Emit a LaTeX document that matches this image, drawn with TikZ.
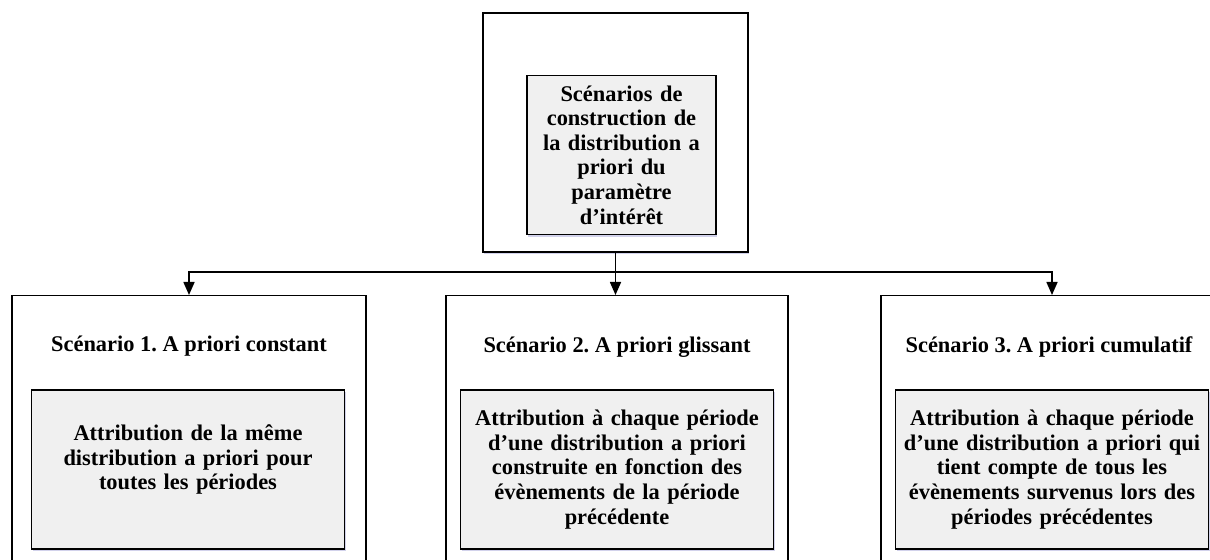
\documentclass[tikz,border=0pt]{standalone}
\usepackage{fontspec}
\setmainfont{Liberation Serif}
\frenchspacing
\usepackage{tikz}
\usetikzlibrary{arrows.meta,shadows}
\tikzset{cadre/.style={draw, rectangle, line width=0.7pt, fill=white, drop shadow={shadow xshift=0.6pt, shadow yshift=-1.2pt, fill=blue!40!gray, opacity=0.25}}}

\begin{document}
\begin{tikzpicture}[x=0.5pt, y=-0.5pt]
\tikzstyle{scenbox} = [cadre, minimum width=171pt, minimum height=142.5pt, anchor=north]
\tikzstyle{contenu} = [cadre, fill=gray!12, minimum width=155pt, minimum height=79.5pt, text width=150pt, align=center, font=\bfseries\fontsize{11.2}{12.3}\selectfont]
\tikzstyle{titre} = [font=\bfseries\fontsize{11.2}{12.3}\selectfont]
\tikzstyle{arrow} = [line width=0.8pt, -{Triangle[width=5.5pt,length=6.5pt]}]

\useasboundingbox (0,0) rectangle (1210,560);
\clip (0,0) rectangle (1210,560);

% haut
\node (cadre) [cadre, minimum width=132.5pt, minimum height=119.5pt] at (615.5,132.5) {};
\node (scen) [contenu, minimum width=92.5pt, text width=88pt] at (621.5,155) {Scénarios de\\construction de\\la distribution a\\priori du\\paramètre\\d’intérêt};

% scenarios
\node (s1) [scenbox, minimum width=177pt] at (189,295) {};
\node (s2) [scenbox] at (617,295) {};
\node (s3) [scenbox] at (1052,295) {};

\node (t1) [titre] at (189,346) {Scénario 1. A priori constant};
\node (t2) [titre] at (617,347) {Scénario 2. A priori glissant};
\node (t3) [titre] at (1049,347) {Scénario 3. A priori cumulatif};

\node (d1) [contenu] at (188,469.5) {Attribution de la même\\distribution a priori pour\\toutes les périodes\\~};
\node (d2) [contenu] at (617,469.5) {Attribution à chaque période\\d’une distribution a priori\\construite en fonction des\\évènements de la période\\précédente};
\node (d3) [contenu] at (1052,469.5) {Attribution à chaque période\\d’une distribution a priori qui\\tient compte de tous les\\évènements survenus lors des\\périodes précédentes};

\coordinate (bar) at (cadre.south |- 0,272);
\draw [arrow] (cadre.south) -- (cadre.south |- s2.north);
\draw [arrow] (bar) -| (s1.north);
\draw [arrow] (bar) -| (s3.north);

\end{tikzpicture}
\end{document}
